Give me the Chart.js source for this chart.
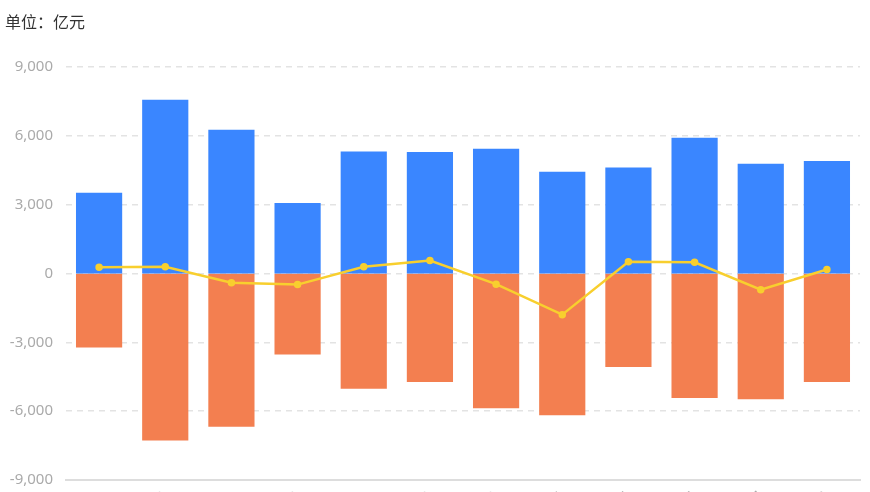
<!DOCTYPE html>
<html>
<head>
<meta charset="utf-8">
<script src="https://cdn.jsdelivr.net/npm/chart.js@4/dist/chart.umd.min.js"></script>
<style>
  html, body { margin: 0; padding: 0; overflow: hidden; background: #fff; }
  #wrap { width: 870px; height: 560px; }
</style>
</head>
<body>
<div id="wrap"><canvas id="barChart"></canvas></div>
<script>
var labels = ['2021-09', '2021-10', '2021-11', '2021-12', '2022-01', '2022-02', '2022-03', '2022-04', '2022-05', '2022-06', '2022-07', '2022-08'];
var inflow = [3500, 7550, 6250, 3050, 5300, 5280, 5420, 4420, 4600, 5900, 4760, 4880];
var outflow = [-3200, -7250, -6650, -3500, -5000, -4700, -5850, -6150, -4050, -5400, -5450, -4700];
var net = [280, 300, -400, -480, 300, 570, -460, -1790, 520, 490, -700, 180];
var yTicks = [-9000, -6000, -3000, 0, 3000, 6000, 9000];

var ctx = document.getElementById('barChart').getContext('2d');
var myChart = new Chart(ctx, {
    data: {
        labels: labels,
        datasets: [{
            type: 'line',
            label: '净额',
            data: net,
            borderColor: '#f8cf2e',
            backgroundColor: '#f8cf2e',
            borderWidth: 2.5,
            pointRadius: 2.5,
            tension: 0,
            order: 0
        }, {
            type: 'bar',
            label: '流入',
            data: inflow,
            backgroundColor: '#3a86ff',
            barPercentage: 0.68,
            categoryPercentage: 1,
            inflateAmount: 0.6,
            order: 1
        }, {
            type: 'bar',
            label: '流出',
            data: outflow,
            backgroundColor: '#f37f50',
            barPercentage: 0.68,
            categoryPercentage: 1,
            inflateAmount: 0.6,
            order: 1
        }]
    },
    options: {
        responsive: true,
        maintainAspectRatio: false,
        animation: false,
        layout: { padding: { left: 5, right: 10, top: 0, bottom: 0 } },
        plugins: {
            legend: { display: false },
            tooltip: { enabled: false },
            title: {
                display: true,
                text: '单位：亿元',
                align: 'start',
                color: '#333',
                font: { family: '"Noto Sans CJK SC"', size: 16, weight: 'normal', lineHeight: 1.2 },
                padding: { top: 12, bottom: 36 }
            }
        },
        scales: {
            x: {
                stacked: true,
                grid: { display: false },
                border: { display: true, color: '#dddddd', width: 2 },
                ticks: {
                    color: '#aaaaaa',
                    font: { family: '"Noto Sans"', size: 15 },
                    minRotation: 45,
                    maxRotation: 45,
                    padding: 0
                },
                afterFit: function (s) { s.height = 80; }
            },
            y: {
                min: -9000,
                max: 9000,
                afterBuildTicks: function (s) { s.ticks = yTicks.map(function (v) { return { value: v }; }); },
                afterFit: function (s) { s.width = 61; },
                grid: { color: '#e3e3e3', lineWidth: 1.5, drawTicks: false },
                border: { display: false, dash: [6, 5] },
                ticks: {
                    color: '#aaaaaa',
                    font: { family: '"Noto Sans"', size: 15 },
                    padding: 13
                }
            }
        }
    }
});
</script>
</body>
</html>
